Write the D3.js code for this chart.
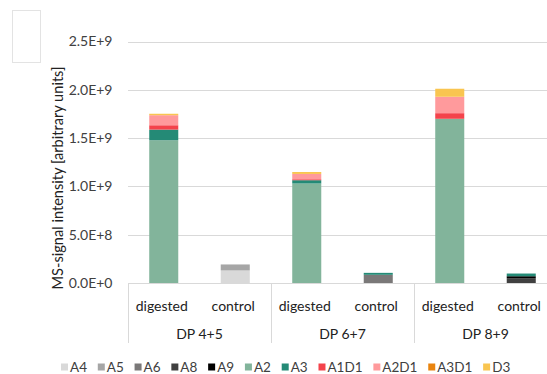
<!DOCTYPE html>
<html><head><meta charset="utf-8">
<script src="https://cdn.jsdelivr.net/npm/d3@7"></script>
<style>
html,body{margin:0;padding:0;background:#fff;}
svg{display:block;font-family:Lato,"Open Sans",sans-serif;}
</style></head>
<body><svg id="c" width="547" height="374"></svg>
<script>
const groups = ["DP 4+5", "DP 6+7", "DP 8+9"];
const conditions = ["digested", "control"];
const seriesNames = ["A4","A5","A6","A8","A9","A2","A3","A1D1","A2D1","A3D1","D3"];
const seriesColors = ["#d9d9d9","#a6a6a6","#7a7878","#404040","#000000","#82b49b","#248a76","#f4434b","#ff9a9c","#e9840e","#f9c550"];
// values per slot: DP4+5 dig, ctrl, DP6+7 dig, ctrl, DP8+9 dig, ctrl
const A4   = [0, 0.13e9, 0, 0, 0, 0];
const A5   = [0, 0.062e9, 0, 0, 0, 0];
const A6   = [0, 0, 0, 0.085e9, 0, 0];
const A8   = [0, 0, 0, 0, 0, 0.05e9];
const A9   = [0, 0, 0, 0, 0, 0.02e9];
const A2   = [1.478e9, 0, 1.03e9, 0, 1.70e9, 0];
const A3   = [0.11e9, 0, 0.034e9, 0.02e9, 0, 0.028e9];
const A1D1 = [0.045e9, 0, 0.01e9, 0, 0.058e9, 0];
const A2D1 = [0.104e9, 0, 0.055e9, 0, 0.17e9, 0];
const A3D1 = [0, 0, 0, 0, 0, 0];
const D3   = [0.015e9, 0, 0.02e9, 0, 0.083e9, 0];
const yTicks = [0, 0.5e9, 1.0e9, 1.5e9, 2.0e9, 2.5e9];
const yTitle = "MS-signal intensity [arbitrary units]";

const seriesValues = [A4,A5,A6,A8,A9,A2,A3,A1D1,A2D1,A3D1,D3];
const slots = [];
groups.forEach(g => conditions.forEach(c => slots.push(g + "|" + c)));
const rows = slots.map((s, i) => {
  const r = {slot: s};
  seriesNames.forEach((n, k) => r[n] = seriesValues[k][i]);
  return r;
});

const FS = 14, FT = 14.6, FL = 13.5;
const svg = d3.select("#c");
const pL = 128, pR = 557, pT = 41.5, pB = 283;
const x = d3.scaleBand().domain(slots).range([pL, pR]).paddingInner(0.594).paddingOuter(0.297);
const y = d3.scaleLinear().domain([0, 2.5e9]).range([pB, pT]);
const color = d3.scaleOrdinal().domain(seriesNames).range(seriesColors);

// box at top-left
svg.append("rect").attr("x", 12.5).attr("y", 10.5).attr("width", 28).attr("height", 52)
  .attr("fill", "#fff").attr("stroke", "#e3e3e3");

// gridlines
svg.append("g").selectAll("line").data(yTicks.filter(d => d > 0)).join("line")
  .attr("x1", pL).attr("x2", 547)
  .attr("y1", d => Math.round(y(d)) + 0.5).attr("y2", d => Math.round(y(d)) + 0.5)
  .attr("stroke", "#d9d9d9").attr("stroke-width", 1);

function sci(d) {
  if (d === 0) return "0.0E+0";
  const e = Math.floor(Math.log10(d));
  const m = d / Math.pow(10, e);
  return m.toFixed(1) + "E+" + e;
}
const yAxis = d3.axisLeft(y).tickValues(yTicks).tickFormat(sci).tickSize(0).tickPadding(0);
const ya = svg.append("g").attr("transform", `translate(112.5,0)`).call(yAxis);
ya.select(".domain").remove();
ya.selectAll("text").attr("font-size", FS).attr("fill", "#404040").attr("font-family", "Lato");

// y title
svg.append("text").attr("transform", "translate(57.5,178) rotate(-90)")
  .attr("text-anchor", "middle").attr("dominant-baseline", "central")
  .attr("font-size", FT).attr("fill", "#222").text(yTitle);

// stacked bars
const stacked = d3.stack().keys(seriesNames)(rows);
svg.append("g").selectAll("g").data(stacked).join("g")
  .attr("fill", d => color(d.key))
  .selectAll("rect").data(d => d.filter(p => p[1] - p[0] > 0)).join("rect")
  .attr("x", d => x(d.data.slot))
  .attr("width", x.bandwidth())
  .attr("y", d => y(d[1]))
  .attr("height", d => y(d[0]) - y(d[1]));

// category axis
const axisY = Math.round(y(0)) + 0.5;
svg.append("line").attr("x1", pL).attr("x2", 547).attr("y1", axisY).attr("y2", axisY)
  .attr("stroke", "#d9d9d9");
const gx = d3.scaleBand().domain(groups).range([pL, pR]);
svg.append("g").selectAll("line").data(groups.concat(["end"])).join("line")
  .attr("x1", (d, i) => Math.round(pL + i * gx.step()) + 0.5)
  .attr("x2", (d, i) => Math.round(pL + i * gx.step()) + 0.5)
  .attr("y1", axisY).attr("y2", 343)
  .attr("stroke", "#d9d9d9");
svg.append("g").selectAll("text").data(slots).join("text")
  .attr("x", d => x(d) + x.bandwidth() / 2 - 2).attr("y", 305)
  .attr("text-anchor", "middle").attr("dominant-baseline", "central")
  .attr("font-size", FS).attr("fill", "#222")
  .text(d => d.split("|")[1]);
svg.append("g").selectAll("text").data(groups).join("text")
  .attr("x", d => gx(d) + gx.bandwidth() / 2).attr("y", 333)
  .attr("text-anchor", "middle").attr("dominant-baseline", "central")
  .attr("font-size", FS).attr("fill", "#222")
  .text(d => d);

// legend
const lg = svg.append("g");
let lx = 61;
seriesNames.forEach((n) => {
  lg.append("rect").attr("x", lx).attr("y", 363.5).attr("width", 7).attr("height", 7).attr("fill", color(n));
  const t = lg.append("text").attr("x", lx + 9).attr("y", 367).attr("dominant-baseline", "central")
    .attr("font-size", FL).attr("fill", "#404040").text(n);
  lx += 9 + t.node().getComputedTextLength() + 10.8;
});
</script></body></html>
